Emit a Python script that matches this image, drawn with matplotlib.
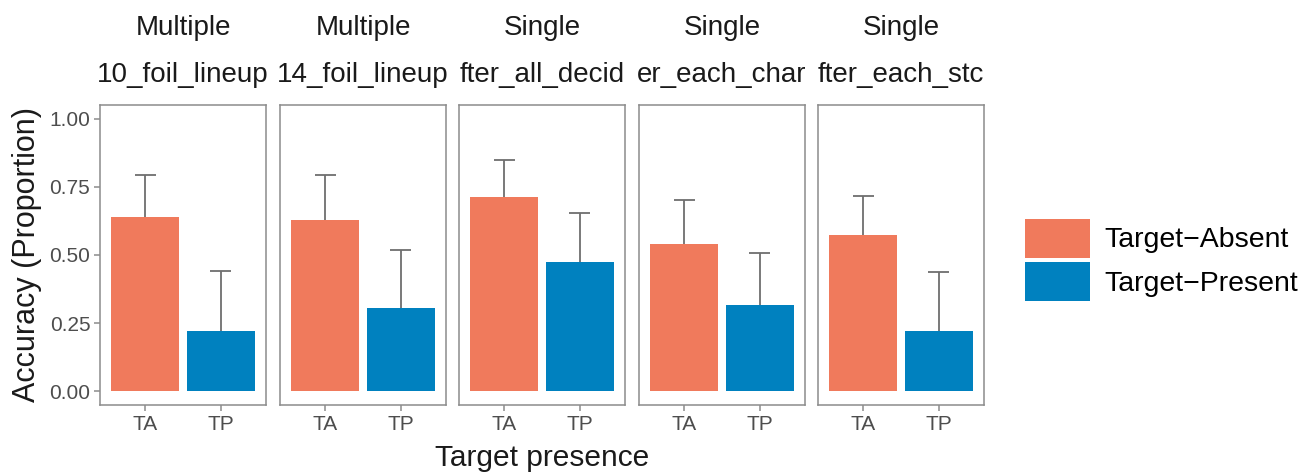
import numpy as np
import matplotlib.pyplot as plt
from matplotlib.patches import Patch

plt.rcParams['font.family'] = ['Liberation Sans', 'DejaVu Sans']

# facet strips: lineup type on top, procedure underneath (clipped in the strip)
lineup_type = ["Multiple", "Multiple", "Single", "Single", "Single"]
procedure = ["10_foil_lineup", "14_foil_lineup", "fter_all_decid", "er_each_char", "fter_each_stc"]

presence = ["TA", "TP"]
legend_labels = ["Target\u2212Absent", "Target\u2212Present"]

# mean accuracy and upper error bound per panel (TA, TP)
acc_ta = [0.64, 0.63, 0.714, 0.542, 0.575]
acc_tp = [0.22, 0.304, 0.476, 0.315, 0.22]
upper_ta = [0.795, 0.795, 0.85, 0.70, 0.715]
upper_tp = [0.441, 0.518, 0.655, 0.509, 0.437]

col_ta = "#F07A5C"
col_tp = "#0081BF"
grey_txt = "#4D4D4D"
border = "#8C8C8C"
whisker = "#6E6E6E"

fig = plt.figure(figsize=(13.15, 4.75), dpi=100)
W, H = 1315, 475
lefts = [100, 280, 459, 639, 818]
pw, top, bottom = 166, 105, 405

x = np.arange(1, 3)
cap = 0.14
for i, left in enumerate(lefts):
    ax = fig.add_axes([left / W, 1 - bottom / H, pw / W, (bottom - top) / H])
    vals = np.array([acc_ta[i], acc_tp[i]])
    ups = np.array([upper_ta[i], upper_tp[i]])
    # upper whisker only; it starts at the bar top
    ax.vlines(x, vals, ups, color=whisker, lw=1.3, zorder=1)
    ax.hlines(ups, x - cap, x + cap, color=whisker, lw=1.3, zorder=1)
    ax.bar(x, vals, width=0.9, color=[col_ta, col_tp], zorder=2)
    ax.set_xlim(0.4, 2.6)
    ax.set_ylim(-0.05, 1.05)
    ax.set_xticks(x)
    ax.set_xticklabels(presence)
    ax.set_yticks([0, 0.25, 0.5, 0.75, 1.0])
    if i == 0:
        ax.set_yticklabels(["0.00", "0.25", "0.50", "0.75", "1.00"])
        ax.set_ylabel("Accuracy (Proportion)", fontsize=22, color="#1A1A1A", labelpad=5)
    else:
        ax.tick_params(axis="y", left=False, labelleft=False)
    ax.tick_params(colors=border, labelcolor=grey_txt, labelsize=15, length=4, width=1.1, pad=3)
    for s in ax.spines.values():
        s.set_color(border)
        s.set_linewidth(1.1)
    ax.text(0.5, 1 + 77 / 300, lineup_type[i], transform=ax.transAxes,
            ha="center", va="center", fontsize=20, color="#1A1A1A")
    ax.text(0.5, 1 + 30 / 300, procedure[i], transform=ax.transAxes,
            ha="center", va="center", fontsize=20, color="#1A1A1A")

fig.text((lefts[0] + lefts[-1] + pw) / 2 / W, 1 - 458 / H, "Target presence",
         ha="center", va="center", fontsize=21.5, color="#1A1A1A")

handles = [Patch(facecolor=col_ta, label=legend_labels[0]),
           Patch(facecolor=col_tp, label=legend_labels[1])]
fig.legend(handles=handles, loc="center left", bbox_to_anchor=(1025 / W, 1 - 260 / H),
           frameon=False, fontsize=20.5, handlelength=2.3, handleheight=1.75,
           handletextpad=0.5, labelspacing=0.15, borderpad=0, borderaxespad=0)

fig.savefig("out.png", dpi=100)
